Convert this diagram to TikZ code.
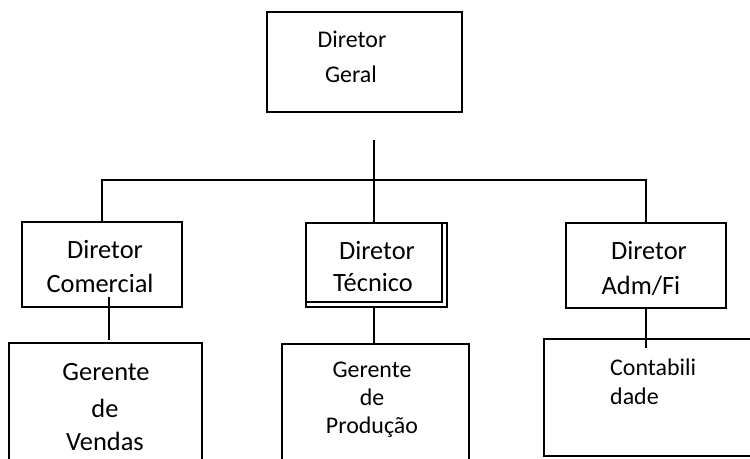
\documentclass[tikz,border=0pt]{standalone}
\usepackage{fontspec}
\setmainfont{Carlito}
\begin{document}
\begin{tikzpicture}[x=1bp,y=-1bp,
  box/.style={draw,line width=1.5bp,rectangle,inner sep=0pt},
  openbox/.style={rectangle,inner sep=0pt},
  edge/.style={line width=1.5bp},
  conn/.style={line width=1.6bp},
  big/.style={font=\fontsize{26.5}{30}\selectfont,inner sep=0pt,anchor=base},
  small/.style={font=\fontsize{24}{28}\selectfont,inner sep=0pt,anchor=base}]
\useasboundingbox (0,0) rectangle (750,459);
% boxes
\node[box,minimum width=195bp,minimum height=100bp] (geral) at (364.5,62) {};
\node[box,minimum width=160bp,minimum height=85bp] (com) at (102,264.5) {};
\node[box,minimum width=141bp,minimum height=84bp] (tec) at (376.5,265) {};
\node[box,line width=1.2bp,minimum width=136bp,minimum height=79bp] (tecin) at (374,262.5) {};
\node[box,minimum width=160bp,minimum height=85bp] (adm) at (646,265.5) {};
\node[openbox,minimum width=193bp,minimum height=130bp] (ven) at (105.5,408) {};
\node[openbox,minimum width=187bp,minimum height=130bp] (pro) at (375.5,409) {};
\node[openbox,minimum width=206bp,minimum height=117bp] (con) at (647,397.5) {};
\draw[edge] (ven.south west) -- (ven.north west) -- (ven.north east) -- (ven.south east);
\draw[edge] (pro.south west) -- (pro.north west) -- (pro.north east) -- (pro.south east);
\draw[edge] (con.north east) -- (con.north west) -- (con.south west) -- (con.south east);
% texts
\node[small] (t1a) at (352,48) {Diretor};
\node[small] (t1b) at (351,83) {Geral};
\node[big] (t2a) at (105,259) {Diretor};
\node[big] (t2b) at (100,293) {Comercial};
\node[big] (t3a) at (377,260) {Diretor};
\node[big] (t3b) at (373,292) {Técnico};
\node[big] (t4a) at (649,260) {Diretor};
\node[big] (t4b) at (641,295) {Adm/Fi};
\node[big] (t5a) at (106,380) {Gerente};
\node[big] (t5b) at (105,417) {de};
\node[big] (t5c) at (105,450) {Vendas};
\node[small] (t6a) at (372,377) {Gerente};
\node[small] (t6b) at (372,405) {de};
\node[small] (t6c) at (372,433) {Produção};
\node[small,anchor=base west] (t7a) at (610,375) {Contabili};
\node[small,anchor=base west] (t7b) at (610,404) {dade};
% connectors
\coordinate (top) at (374,140);
\coordinate (bar) at (374,180);
\draw[conn] (top) -- (top |- tec.north);
\draw[conn] (com.north) |- (bar) -| (adm.north);
\coordinate (c1) at (109,297);
\coordinate (c2) at (109,340);
\draw[conn] (c1) -- (c2);
\draw[conn] (top |- tec.south) -- (top |- pro.north);
\coordinate (a2) at (646,348);
\draw[conn] (adm.south) -- (a2);
\end{tikzpicture}
\end{document}
